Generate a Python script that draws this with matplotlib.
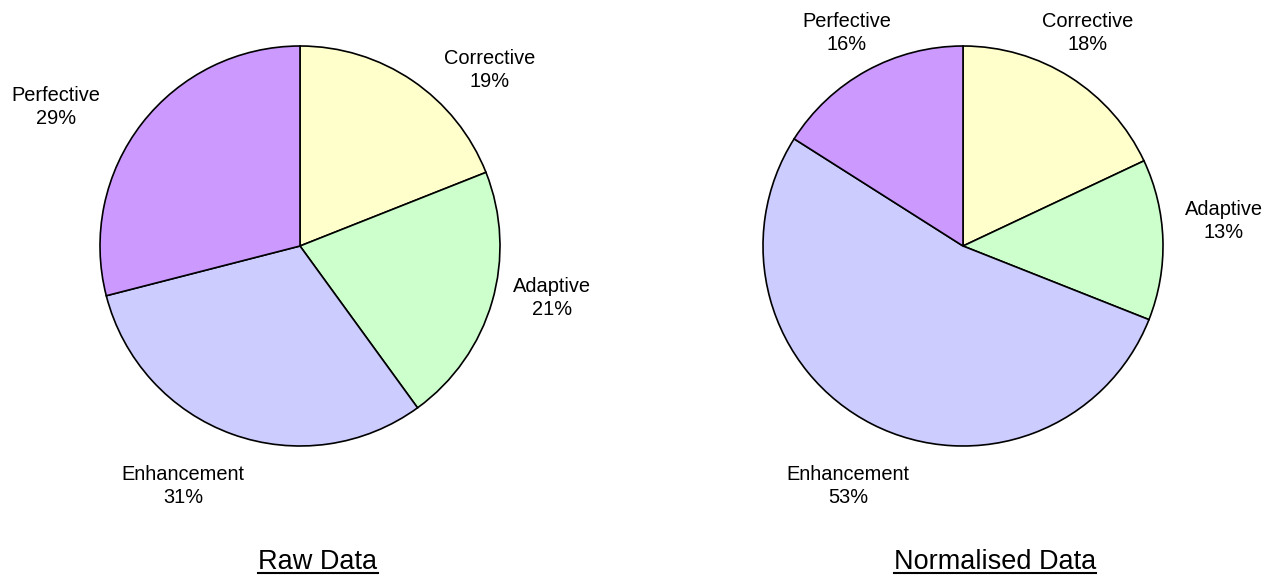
import matplotlib
matplotlib.use("Agg")
import matplotlib.pyplot as plt
from matplotlib.lines import Line2D

plt.rcParams["font.family"] = ["Liberation Sans", "DejaVu Sans"]

CATEGORIES = ["Corrective", "Adaptive", "Enhancement", "Perfective"]
COLORS = ["#FFFFCC", "#CCFFCC", "#CCCCFF", "#CC99FF"]

RAW_PCT = [19, 21, 31, 29]
NORM_PCT = [18, 13, 53, 16]

TITLES = ["Raw Data", "Normalised Data"]

# label centres in pie-radius units (Excel style outside-end placement)
RAW_LABEL_XY = [(0.95, 0.88), (1.26, -0.26), (-0.585, -1.20), (-1.22, 0.695)]
NORM_LABEL_XY = [(0.625, 1.065), (1.305, 0.125), (-0.575, -1.20), (-0.58, 1.065)]

W, H = 1280, 576
fig = plt.figure(figsize=(W / 100, H / 100), dpi=100)

R_PX = 200  # pie radius in pixels
PIE_CENTERS = [(300, 246), (963, 246)]
TITLE_X = [318, 995]
TITLE_BASE = 569


def draw_pie(cx, cy, values, label_xy):
    half = 1.5
    size = 2 * half * R_PX
    left = (cx - half * R_PX) / W
    bottom = (H - cy - half * R_PX) / H
    ax = fig.add_axes([left, bottom, size / W, size / H])
    ax.pie(values, colors=COLORS, startangle=90, counterclock=False,
           radius=1.0,
           wedgeprops=dict(edgecolor="black", linewidth=1.2))
    ax.set_xlim(-half, half)
    ax.set_ylim(-half, half)
    ax.set_aspect("equal")
    ax.axis("off")
    for name, pct, (x, y) in zip(CATEGORIES, values, label_xy):
        ax.text(x, y, f"{name}\n{pct}%", ha="center", va="center",
                fontsize=14.4, linespacing=1.25, clip_on=False)
    return ax


draw_pie(*PIE_CENTERS[0], RAW_PCT, RAW_LABEL_XY)
draw_pie(*PIE_CENTERS[1], NORM_PCT, NORM_LABEL_XY)

titles = []
for tx, label in zip(TITLE_X, TITLES):
    t = fig.text(tx / W, (H - TITLE_BASE) / H, label, ha="center",
                 va="baseline", fontsize=19.5)
    titles.append(t)

# underline the titles
fig.canvas.draw()
renderer = fig.canvas.get_renderer()
for t in titles:
    bb = t.get_window_extent(renderer)
    y = (H - TITLE_BASE - 4) / H
    fig.add_artist(Line2D([bb.x0 / W, bb.x1 / W], [y, y],
                          transform=fig.transFigure, color="black", lw=1.5))

fig.savefig("out.png", dpi=100)
